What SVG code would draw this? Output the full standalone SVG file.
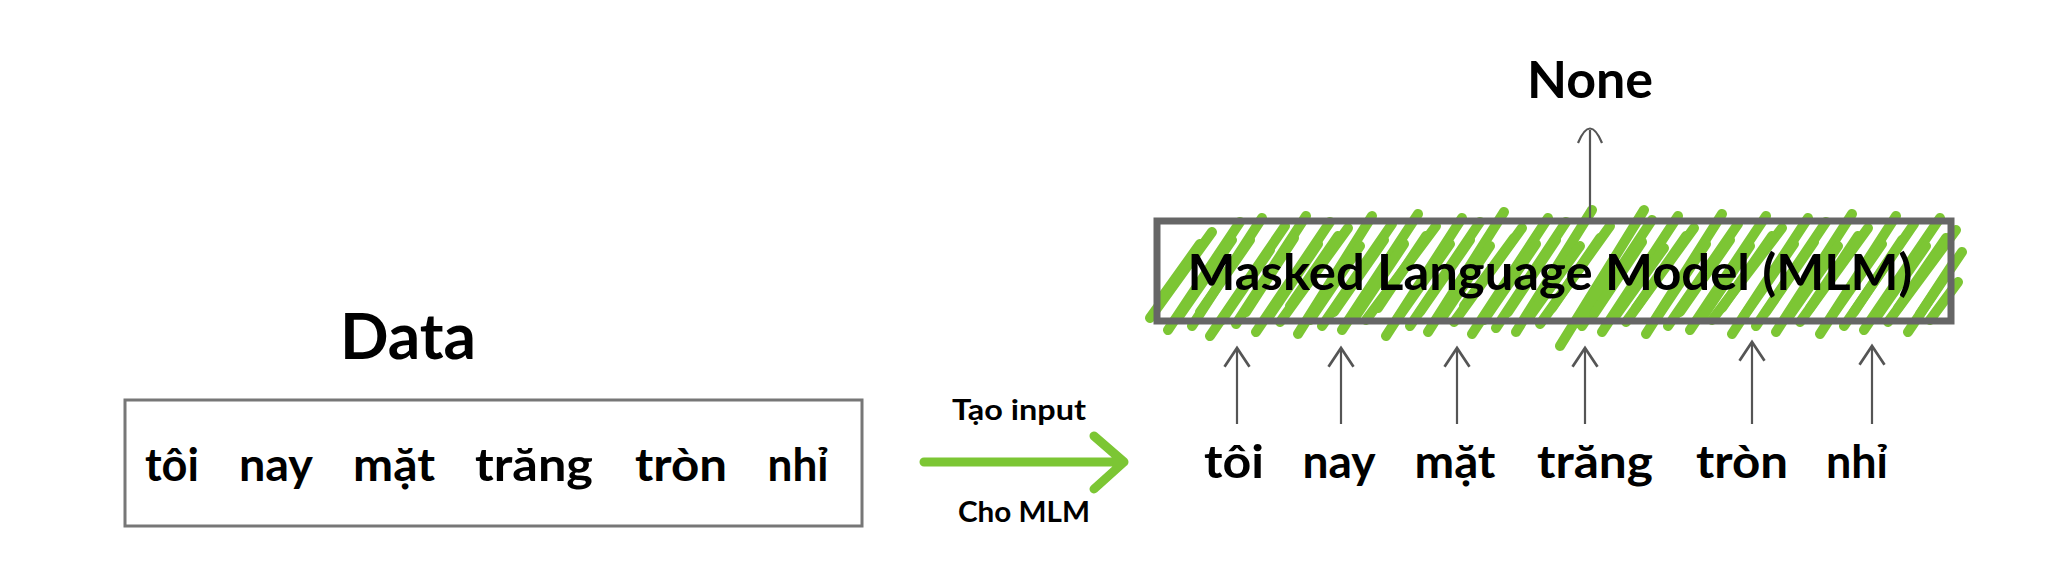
<svg xmlns="http://www.w3.org/2000/svg" width="2048" height="567" viewBox="0 0 2048 567">
<style>
.t{font-family:"Lato","Liberation Sans",sans-serif;font-weight:bold;fill:#000;text-anchor:middle}
.w{font-size:46px}
.lbl{font-size:29px}
.conn{stroke:#555;stroke-width:2.2;fill:none}
.hatch{fill:none;stroke:#7cc634;stroke-width:10;stroke-linecap:round}
</style>
<defs>
<marker id="ah" markerUnits="userSpaceOnUse" markerWidth="30" markerHeight="30" refX="0" refY="0" viewBox="-16 -12 20 24" orient="auto">
<path d="M-15,-10 L0,0 L-15,10" fill="none" stroke="#555" stroke-width="2.2"/>
</marker>
</defs>
<rect width="2048" height="567" fill="#fff"/>

<g id="data">
<text class="t" x="408" y="359" font-size="64">Data</text>
<rect x="125" y="400" width="737" height="126" fill="none" stroke="#777" stroke-width="3"/>
<text class="t w" x="172" y="481" textLength="54" lengthAdjust="spacingAndGlyphs">tôi</text>
<text class="t w" x="276" y="481" textLength="74" lengthAdjust="spacingAndGlyphs">nay</text>
<text class="t w" x="394" y="481" textLength="82" lengthAdjust="spacingAndGlyphs">mặt</text>
<text class="t w" x="534" y="481" textLength="118" lengthAdjust="spacingAndGlyphs">trăng</text>
<text class="t w" x="681" y="481" textLength="92" lengthAdjust="spacingAndGlyphs">tròn</text>
<text class="t w" x="798" y="481" textLength="61" lengthAdjust="spacingAndGlyphs">nhỉ</text>
</g>

<g id="transform">
<text class="t lbl" x="1019" y="420" textLength="134" lengthAdjust="spacingAndGlyphs">Tạo input</text>
<text class="t lbl" x="1024" y="522" textLength="132" lengthAdjust="spacingAndGlyphs">Cho MLM</text>
<path d="M924 462 L1124 462 M1094 436 L1124 462 L1094 489" fill="none" stroke="#7cc634" stroke-width="9" stroke-linecap="round" stroke-linejoin="round"/>
</g>

<g id="mlm">
<path class="hatch" d="M1150 318 L1212 232 M1168 330 L1240 222 M1192 326 L1262 218 M1210 336 L1285 226 M1236 324 L1306 216 M1256 332 L1330 222 M1280 322 L1348 228 M1298 334 L1372 216 M1322 326 L1392 224 M1342 330 L1418 214 M1366 320 L1436 226 M1386 336 L1462 218 M1410 326 L1480 222 M1428 332 L1504 212 M1454 322 L1522 228 M1472 334 L1548 218 M1496 328 L1566 222 M1516 332 L1592 210 M1540 324 L1610 226 M1560 346 L1644 210 M1582 326 L1652 220 M1602 332 L1678 216 M1626 322 L1694 228 M1646 334 L1722 214 M1668 326 L1738 224 M1690 330 L1766 216 M1712 320 L1782 228 M1732 334 L1808 218 M1756 326 L1826 222 M1776 332 L1852 214 M1800 322 L1868 228 M1820 334 L1896 216 M1844 326 L1914 224 M1864 330 L1940 218 M1888 322 L1956 230 M1908 332 L1962 252 M1930 320 L1958 282"/>
<path class="hatch" d="M1160 300 L1200 244 M1178 318 L1232 240 M1200 312 L1250 240 M1222 320 L1270 250 M1246 312 L1294 238 M1268 318 L1318 244 M1290 306 L1338 236 M1310 320 L1360 246 M1334 312 L1384 240 M1356 316 L1404 244 M1378 308 L1426 236 M1398 318 L1450 244 M1420 312 L1470 240 M1442 318 L1490 246 M1464 306 L1514 238 M1484 320 L1536 244 M1508 312 L1556 240 M1530 316 L1580 246 M1552 308 L1600 238 M1594 314 L1642 242 M1614 318 L1664 248 M1636 308 L1686 236 M1658 316 L1706 244 M1680 312 L1730 240 M1702 318 L1750 246 M1722 308 L1772 236 M1744 316 L1794 244 M1766 312 L1814 242 M1788 318 L1838 246 M1810 308 L1858 236 M1832 316 L1882 244 M1854 312 L1902 240 M1876 318 L1926 246 M1898 308 L1946 238 M1920 314 L1954 262"/>
<rect x="1157" y="221" width="794" height="100" fill="none" stroke="#666" stroke-width="7"/>
<text class="t" x="1550" y="290" font-size="50" textLength="725" lengthAdjust="spacingAndGlyphs">Masked Language Model (MLM)</text>
</g>

<g id="output">
<text class="t" x="1590" y="98" font-size="52">None</text>
</g>

<g id="inputs">
<text class="t w" x="1234" y="478" textLength="60" lengthAdjust="spacingAndGlyphs">tôi</text>
<text class="t w" x="1339" y="478" textLength="73" lengthAdjust="spacingAndGlyphs">nay</text>
<text class="t w" x="1455" y="478" textLength="81" lengthAdjust="spacingAndGlyphs">mặt</text>
<text class="t w" x="1595" y="478" textLength="116" lengthAdjust="spacingAndGlyphs">trăng</text>
<text class="t w" x="1742" y="478" textLength="92" lengthAdjust="spacingAndGlyphs">tròn</text>
<text class="t w" x="1857" y="478" textLength="62" lengthAdjust="spacingAndGlyphs">nhỉ</text>
</g>

<g id="connectors">
<line class="conn" x1="1237" y1="424" x2="1237" y2="348" marker-end="url(#ah)"/>
<line class="conn" x1="1341" y1="424" x2="1341" y2="348" marker-end="url(#ah)"/>
<line class="conn" x1="1457" y1="424" x2="1457" y2="348" marker-end="url(#ah)"/>
<line class="conn" x1="1585" y1="424" x2="1585" y2="348" marker-end="url(#ah)"/>
<line class="conn" x1="1752" y1="424" x2="1752" y2="342" marker-end="url(#ah)"/>
<line class="conn" x1="1872" y1="424" x2="1872" y2="346" marker-end="url(#ah)"/>
<path class="conn" d="M1590 218 L1590 130 M1578 143 Q1590 114 1602 143"/>
</g>
</svg>
